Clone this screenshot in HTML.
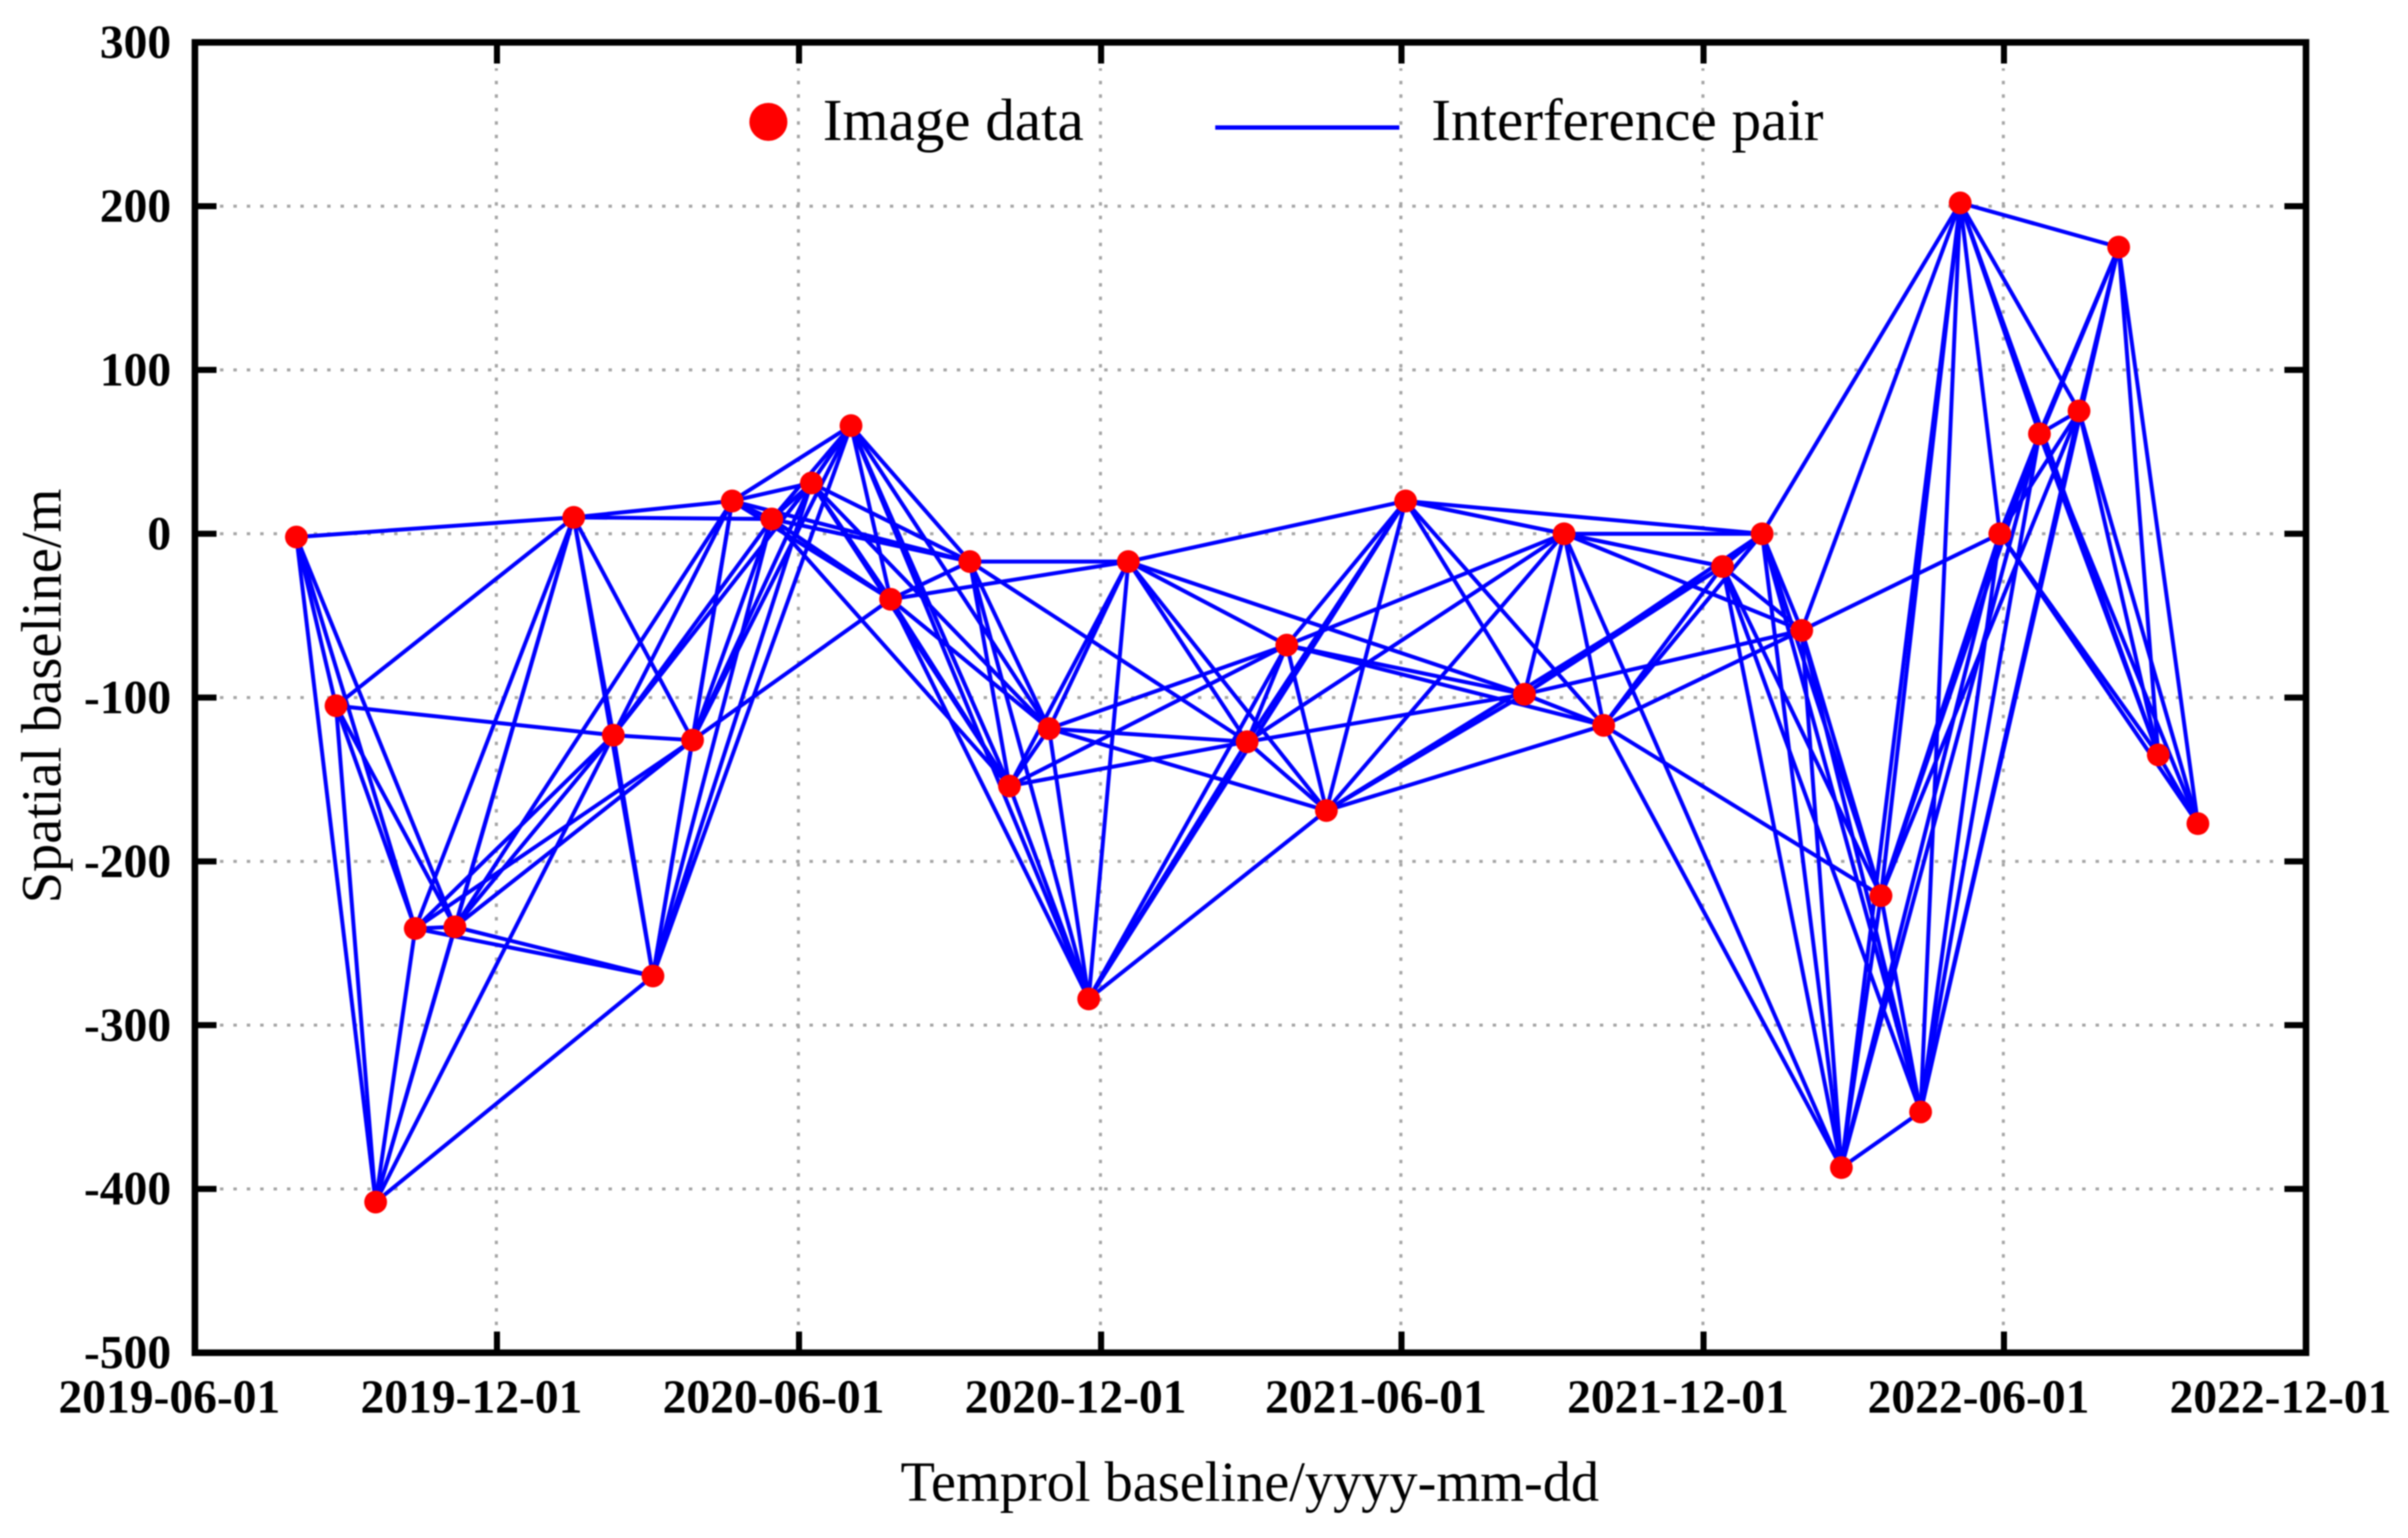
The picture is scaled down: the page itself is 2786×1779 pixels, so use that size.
<!DOCTYPE html>
<html lang="en">
<head>
<meta charset="utf-8">
<title>Spatial and temporal baseline chart</title>
<style>
  html, body { margin: 0; padding: 0; background: #ffffff; }
  body { width: 2786px; height: 1779px; overflow: hidden; }
  svg { display: block; }
  text { font-family: "Liberation Serif", serif; fill: #000000; }
  .tick-label { font-size: 55px; font-weight: bold; }
  .axis-title { font-size: 65.2px; }
  .legend-text { font-size: 68.4px; }
</style>
</head>
<body>
<svg id="chart" xmlns="http://www.w3.org/2000/svg" width="2786" height="1779" viewBox="0 0 2786 1779">
  <g id="soft" style="filter: blur(0.8px)">
    <g id="grid"></g>
    <g id="pairs"></g>
    <g id="images"></g>
    <g id="ticks"></g>
    <rect x="225.5" y="49" width="2442.5" height="1515.7" fill="none" stroke="#000000" stroke-width="7.6"></rect>
    <g id="labels"></g>
    <text class="axis-title" x="1446" y="1736" text-anchor="middle">Temprol baseline/yyyy-mm-dd</text>
    <text class="axis-title" x="0" y="0" text-anchor="middle" transform="translate(70 805) rotate(-90)">Spatial baseline/m</text>
    <g>
      <circle cx="889" cy="141" r="22" fill="#ff0000"></circle>
      <text class="legend-text" x="952" y="162">Image data</text>
      <line x1="1406" y1="147.5" x2="1619" y2="147.5" stroke="#0000ff" stroke-width="5"></line>
      <text class="legend-text" x="1656" y="162">Interference pair</text>
    </g>
  </g>
</svg>
<script>
const imageDates = [
  "2019-08-01","2019-08-25","2019-09-18","2019-10-12","2019-11-05",
  "2020-01-16","2020-02-09","2020-03-04","2020-03-28","2020-04-21",
  "2020-05-15","2020-06-08","2020-07-02","2020-07-26","2020-09-12",
  "2020-10-06","2020-10-30","2020-11-23","2020-12-17","2021-02-27",
  "2021-03-23","2021-04-16","2021-06-03","2021-08-14","2021-09-07",
  "2021-10-01","2021-12-12","2022-01-05","2022-01-29","2022-02-22",
  "2022-03-18","2022-04-11","2022-05-05","2022-05-29","2022-06-22",
  "2022-07-16","2022-08-09","2022-09-02","2022-09-26"
];
const spatialBaselines = [
  -2,-105,-408,-241,-240,
  10,-123,-270,-126,20,
  9,31,66,-40,-17,
  -154,-119,-284,-17,-127,
  -68,-169,20,-98,0,
  -117,-20,0,-59,-387,
  -221,-353,202,0,61,
  75,175,-135,-177
];
const linksPerImage = 5;
const xTickDates = ["2019-06-01","2019-12-01","2020-06-01","2020-12-01","2021-06-01","2021-12-01","2022-06-01","2022-12-01"];
const yTickValues = [300,200,100,0,-100,-200,-300,-400,-500];

const plotLeft = 225.5, plotRight = 2668, plotTop = 49, plotBottom = 1564.7;
const SVG_NS = "http://www.w3.org/2000/svg";
const t0 = Date.parse(xTickDates[0]);
const t1 = Date.parse(xTickDates[xTickDates.length - 1]);
const yMax = yTickValues[0];
const yMin = yTickValues[yTickValues.length - 1];

function xScale(dateText) {
  return plotLeft + (Date.parse(dateText) - t0) / (t1 - t0) * (plotRight - plotLeft);
}
function imageX(dateText) {
  return xScale(dateText + "T12:00:00Z");
}
function yScale(value) {
  return plotTop + (yMax - value) / (yMax - yMin) * (plotBottom - plotTop);
}
function make(tag, parent) {
  const el = document.createElementNS(SVG_NS, tag);
  parent.appendChild(el);
  return el;
}
function setLine(el, x1, y1, x2, y2, color, width) {
  el.setAttribute("x1", x1);
  el.setAttribute("y1", y1);
  el.setAttribute("x2", x2);
  el.setAttribute("y2", y2);
  el.setAttribute("stroke", color);
  el.setAttribute("stroke-width", width);
}

const gridLayer = document.getElementById("grid");
const tickLayer = document.getElementById("ticks");
const labelLayer = document.getElementById("labels");
const pairLayer = document.getElementById("pairs");
const imageLayer = document.getElementById("images");

xTickDates.forEach(function (d) {
  const x = xScale(d);
  if (x > plotLeft + 1 && x < plotRight - 1) {
    const g = make("line", gridLayer);
    
    
    setLine(g, x - 0.7, plotBottom - 32, x - 0.7, plotTop + 30, "#a6a6a6", 3.5);
    g.setAttribute("stroke-dasharray", "4 11.6");
    const top = make("line", tickLayer);
    
    
    setLine(top, x, plotTop, x, plotTop + 24.5, "#000000", 7);
    const bottom = make("line", tickLayer);
    
    
    setLine(bottom, x, plotBottom, x, plotBottom - 24.5, "#000000", 7);
  }
  const t = make("text", labelLayer);
  
  
  t.setAttribute("class", "tick-label");
  t.setAttribute("x", x - 29.5);
  t.setAttribute("y", 1634);
  t.setAttribute("text-anchor", "middle");
  t.textContent = d;
});

yTickValues.forEach(function (v) {
  const y = yScale(v);
  if (y > plotTop + 1 && y < plotBottom - 1) {
    const g = make("line", gridLayer);
    
    
    setLine(g, plotLeft + 29, y, plotRight - 38, y, "#a6a6a6", 3.5);
    g.setAttribute("stroke-dasharray", "4 11.5");
    const left = make("line", tickLayer);
    
    
    setLine(left, plotLeft, y, plotLeft + 25, y, "#000000", 7);
    const right = make("line", tickLayer);
    
    
    setLine(right, plotRight, y, plotRight - 25, y, "#000000", 7);
  }
  const t = make("text", labelLayer);
  
  
  t.setAttribute("class", "tick-label");
  t.setAttribute("x", 198);
  t.setAttribute("y", y + 18);
  t.setAttribute("text-anchor", "end");
  t.textContent = String(v);
});

imageDates.forEach(function (d, i) {
  for (let k = 1; k <= linksPerImage && i + k < imageDates.length; k++) {
    const l = make("line", pairLayer);
    
    
    setLine(l, imageX(d), yScale(spatialBaselines[i]), imageX(imageDates[i + k]), yScale(spatialBaselines[i + k]), "#0000ff", 4.6);
  }
});

imageDates.forEach(function (d, i) {
  const c = make("circle", imageLayer);
  
  
  c.setAttribute("cx", imageX(d));
  c.setAttribute("cy", yScale(spatialBaselines[i]));
  c.setAttribute("r", 13.2);
  c.setAttribute("fill", "#ff0000");
});
</script>
</body>
</html>
